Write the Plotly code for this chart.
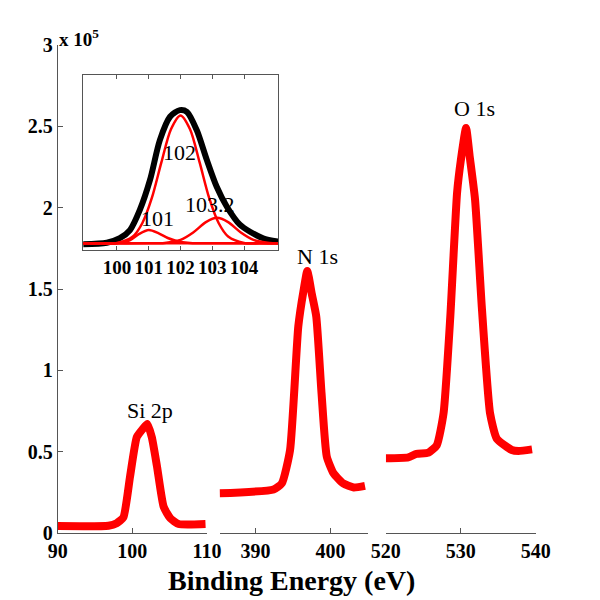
import plotly.graph_objects as go

# ---- data (intensity in units of 1e5 counts) ----
si_x = [90.0, 96.8, 97.9, 98.8, 99.7, 100.6, 101.4, 102.0, 102.6, 103.3, 104.2, 105.1, 106.2, 109.8]
si_y = [0.043, 0.045, 0.06, 0.096, 0.35, 0.59, 0.64, 0.67, 0.59, 0.41, 0.16, 0.09, 0.055, 0.055]

n_x = [385.2, 392.4, 393.5, 394.6, 395.7, 396.4, 396.9, 397.5, 398.1, 398.8, 399.5, 400.4, 401.7, 403.1, 404.6]
n_y = [0.244, 0.268, 0.305, 0.51, 1.27, 1.49, 1.61, 1.47, 1.33, 0.86, 0.47, 0.367, 0.305, 0.28, 0.29]

o_x = [520.0, 523.0, 524.1, 525.7, 526.8, 527.7, 528.6, 529.5, 530.0, 530.7, 531.2, 531.9, 532.8, 533.9, 534.8, 536.8, 537.7, 539.5]
o_y = [0.459, 0.465, 0.486, 0.494, 0.54, 0.736, 1.33, 2.09, 2.29, 2.49, 2.31, 2.05, 1.39, 0.736, 0.58, 0.51, 0.504, 0.514]

# inset: Si 2p deconvolution
env_x = [98.94, 99.68, 100.09, 100.41, 100.72, 101.04, 101.35, 101.67, 101.98, 102.2, 102.51, 102.83, 103.14, 103.46, 103.87, 104.19, 104.6, 105.08]
env_y = [0.034, 0.041, 0.062, 0.10, 0.194, 0.334, 0.52, 0.629, 0.66, 0.652, 0.567, 0.427, 0.302, 0.209, 0.125, 0.092, 0.062, 0.046]

c102_x = [98.9, 99.5, 100.0, 100.5, 100.8, 101.1, 101.4, 101.7, 102.0, 102.3, 102.6, 102.9, 103.2, 103.5, 104.0, 104.5, 105.1]
c102_y = [0.038, 0.038, 0.040, 0.070, 0.133, 0.251, 0.417, 0.571, 0.635, 0.571, 0.417, 0.251, 0.133, 0.070, 0.040, 0.038, 0.038]

c101_x = [98.9, 100.0, 100.4, 100.7, 101.0, 101.3, 101.6, 101.9, 102.3, 103.0, 105.1]
c101_y = [0.038, 0.039, 0.052, 0.082, 0.100, 0.086, 0.063, 0.048, 0.040, 0.038, 0.038]

c1032_x = [98.9, 101.0, 101.5, 102.0, 102.4, 102.8, 103.15, 103.5, 103.9, 104.3, 104.8, 105.1]
c1032_y = [0.038, 0.038, 0.040, 0.054, 0.089, 0.137, 0.157, 0.137, 0.089, 0.054, 0.040, 0.038]

bg_x = [98.9, 105.1]
bg_y = [0.038, 0.038]

y_ticks = [0, 0.5, 1, 1.5, 2, 2.5, 3]
y_ticktext = ["0", "0.5", "1", "1.5", "2", "2.5", "3"]

FONT = "Liberation Serif"
AX = "#555555"
W, H = 600, 600

def px_x(p):
    return p / W

def px_y(p):
    return 1 - p / H

fig = go.Figure()
red_main = dict(color="#ff0000", width=8, shape="spline", smoothing=0.5)
fig.add_trace(go.Scatter(x=si_x, y=si_y, mode="lines", line=red_main, xaxis="x", yaxis="y"))
fig.add_trace(go.Scatter(x=n_x, y=n_y, mode="lines", line=red_main, xaxis="x2", yaxis="y"))
fig.add_trace(go.Scatter(x=o_x, y=o_y, mode="lines", line=red_main, xaxis="x3", yaxis="y"))

fig.add_trace(go.Scatter(x=env_x, y=env_y, mode="lines",
                         line=dict(color="black", width=6, shape="spline", smoothing=0.8),
                         xaxis="x4", yaxis="y4"))
for xs, ys in [(bg_x, bg_y), (c102_x, c102_y), (c101_x, c101_y), (c1032_x, c1032_y)]:
    fig.add_trace(go.Scatter(x=xs, y=ys, mode="lines",
                             line=dict(color="#ff0000", width=2.5, shape="spline", smoothing=0.8),
                             xaxis="x4", yaxis="y4"))

tickfont = dict(family=FONT, size=20, color="black", weight="bold")
xcommon = dict(showgrid=False, zeroline=False, showline=True, linecolor=AX, linewidth=1,
               ticks="inside", ticklen=5, tickcolor=AX, tickfont=tickfont, anchor="y",
               automargin=False, tickangle=0)
ydom = [px_y(533), px_y(45)]

fig.update_layout(
    width=W, height=H, margin=dict(l=0, r=0, t=0, b=0, pad=0, autoexpand=False),
    paper_bgcolor="white", plot_bgcolor="white", showlegend=False,
    xaxis=dict(domain=[px_x(57.7), px_x(207)], range=[90, 110], tickvals=[90, 100, 110], **xcommon),
    xaxis2=dict(domain=[px_x(219.6), px_x(368)], range=[385.2, 405], tickvals=[390, 400], **xcommon),
    xaxis3=dict(domain=[px_x(385.8), px_x(535.8)], range=[520, 540], tickvals=[520, 530, 540], **xcommon),
    yaxis=dict(domain=ydom, range=[0, 3], anchor="x", showgrid=False, zeroline=False, showline=True,
               linecolor=AX, linewidth=1, ticks="inside", ticklen=5, tickcolor=AX,
               tickvals=y_ticks, ticktext=y_ticktext, tickfont=tickfont, automargin=False),
    xaxis4=dict(domain=[px_x(83), px_x(278)], range=[98.93, 105.07], anchor="y4",
                tickvals=[100, 101, 102, 103, 104], showgrid=False, zeroline=False,
                showline=True, mirror="ticks", linecolor=AX, linewidth=1, ticks="inside",
                ticklen=4, tickcolor=AX, tickangle=0, automargin=False,
                tickfont=dict(family=FONT, size=19, color="black", weight="bold")),
    yaxis4=dict(domain=[px_y(250), px_y(75)], range=[0.007, 0.824], anchor="x4",
                showgrid=False, zeroline=False, showline=True, mirror=True, linecolor=AX,
                linewidth=1, ticks="", showticklabels=False, automargin=False),
)

label_font = dict(family=FONT, size=22, color="black")
ann = [
    dict(text="Si 2p", x=102.4, y=0.756, xref="x", yref="y"),
    dict(text="N 1s", x=398.3, y=1.70, xref="x2", yref="y"),
    dict(text="O 1s", x=531.8, y=2.61, xref="x3", yref="y"),
    dict(text="102", x=101.98, y=0.460, xref="x4", yref="y4"),
    dict(text="101", x=101.26, y=0.152, xref="x4", yref="y4"),
    dict(text="103.2", x=102.93, y=0.219, xref="x4", yref="y4"),
]
for a in ann:
    fig.add_annotation(showarrow=False, font=label_font, xanchor="center", yanchor="middle", **a)

fig.add_annotation(text="x 10<sup>5</sup>", x=px_x(57), y=px_y(24), xref="paper", yref="paper",
                   xanchor="left", yanchor="top", showarrow=False,
                   font=dict(family=FONT, size=19, color="black", weight="bold"))
fig.add_annotation(text="Binding Energy (eV)", x=px_x(291.5), y=px_y(580), xref="paper", yref="paper",
                   xanchor="center", yanchor="middle", showarrow=False,
                   font=dict(family=FONT, size=28, color="black", weight="bold"))

fig.write_html("out.html", config={"displayModeBar": False},
               post_script="document.body.style.margin='0';document.body.style.overflow='hidden';")
